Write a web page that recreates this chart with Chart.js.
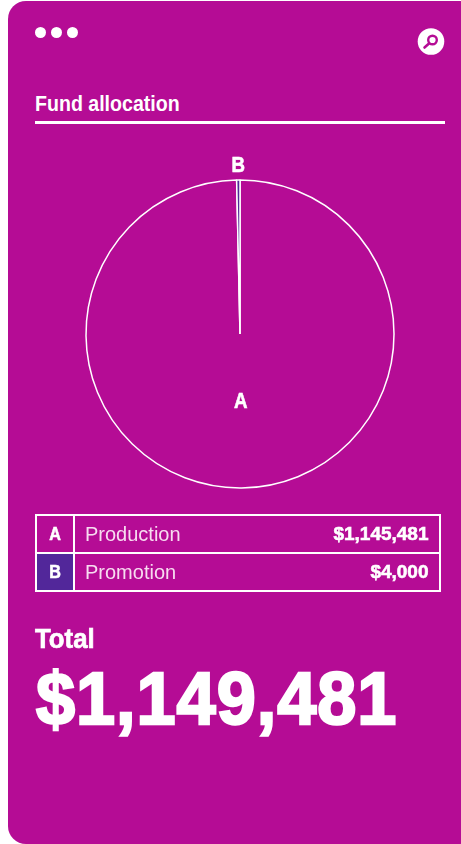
<!DOCTYPE html>
<html><head><meta charset="utf-8">
<script src="https://cdn.jsdelivr.net/npm/chart.js@4"></script>
<style>
html,body{margin:0;padding:0;background:#fff;width:461px;height:844px;overflow:hidden}
#card{position:absolute;left:8px;top:1px;width:470px;height:843px;background:#b50c95;border-radius:18px}
.abs{position:absolute;color:#fff;font-family:"Liberation Sans",Arial,sans-serif;white-space:nowrap;transform-origin:0 50%}
.dot{position:absolute;width:11px;height:11px;border-radius:50%;background:#fff;top:27px}
#rule{position:absolute;left:35px;top:121px;width:410px;height:3px;background:#fff}
#wrap{position:absolute;left:60px;top:144px;width:360px;height:380px}
.line{position:absolute;background:#fff}
</style></head><body>
<div id="card"></div>
<div class="dot" style="left:35px"></div><div class="dot" style="left:51px"></div><div class="dot" style="left:67px"></div>
<svg style="position:absolute;left:417px;top:28px" width="28" height="28" viewBox="0 0 28 28">
<circle cx="14" cy="13.5" r="13.3" fill="#fff"/>
<circle cx="15.5" cy="12" r="4.3" fill="none" stroke="#b50c95" stroke-width="2.4"/>
<line x1="12" y1="15.5" x2="7.5" y2="19.5" stroke="#b50c95" stroke-width="2.6" stroke-linecap="round"/>
</svg>
<div class="abs" id="title" style="left:35px;top:91px;font-size:22px;line-height:26px;font-weight:700;transform:scaleX(.89)">Fund allocation</div>
<div id="rule"></div>
<div id="wrap"><canvas id="c" width="360" height="380"></canvas></div>

<div class="line" style="left:35px;top:514px;width:406px;height:2px"></div>
<div class="line" style="left:35px;top:552px;width:406px;height:2px"></div>
<div class="line" style="left:35px;top:590px;width:406px;height:2px"></div>
<div class="line" style="left:35px;top:514px;width:2px;height:78px"></div>
<div class="line" style="left:73px;top:514px;width:2px;height:78px"></div>
<div class="line" style="left:439px;top:514px;width:2px;height:78px"></div>
<div style="position:absolute;left:37px;top:554px;width:36px;height:36px;background:#52279a"></div>

<div id="rows"></div>
<div class="abs" id="totalLabel" style="left:35px;top:622px;font-size:28px;line-height:34px;font-weight:700;transform:scaleX(.92);-webkit-text-stroke:.7px #fff">Total</div>
<div class="abs" id="totalValue" style="left:36px;top:659px;font-size:74px;line-height:80px;font-weight:700;letter-spacing:1px;transform:scaleX(.95);-webkit-text-stroke:2.4px #fff"></div>
<script>
const letters = ["A", "B"];
const categories = ["Production", "Promotion"];
const values = [1145481, 4000];
const totalValue = 1149481;
const money = v => "$" + v.toLocaleString("en-US");

const rows = document.getElementById("rows");
categories.forEach((name, i) => {
  const top = 516 + i * 38;
  rows.insertAdjacentHTML("beforeend",
    `<div class="abs" style="left:37px;width:36px;top:${top}px;line-height:36px;text-align:center;font-size:19px;font-weight:700;-webkit-text-stroke:.6px #fff;transform-origin:50% 50%;transform:scaleX(.85)">${letters[i]}</div>` +
    `<div class="abs" style="left:85px;top:${top}px;line-height:36px;font-size:20px;color:#f7dcf0">${name}</div>` +
    `<div class="abs" style="right:32.5px;top:${top}px;line-height:36px;font-size:19px;font-weight:700;-webkit-text-stroke:.6px #fff;transform-origin:100% 50%">${money(values[i])}</div>`);
});
document.getElementById("totalValue").textContent = money(totalValue);

const sliceLabels = {
  id: "sliceLabels",
  afterDatasetsDraw(chart) {
    const { ctx } = chart;
    const arcs = chart.getDatasetMeta(0).data;
    ctx.save();
    ctx.fillStyle = "#fff";
    ctx.strokeStyle = "#fff";
    ctx.lineWidth = 0.6;
    ctx.textAlign = "center";
    ctx.textBaseline = "middle";
    ctx.font = '700 22px "Liberation Sans",Arial,sans-serif';
    arcs.forEach((arc, i) => {
      const mid = (arc.startAngle + arc.endAngle) / 2;
      const r = i === 0 ? arc.outerRadius * 0.44 : arc.outerRadius + 14;
      ctx.save();
      ctx.translate(arc.x + Math.cos(mid) * r, arc.y + Math.sin(mid) * r);
      ctx.scale(0.85, 1);
      ctx.fillText(letters[i], 0, 0);
      ctx.strokeText(letters[i], 0, 0);
      ctx.restore();
    });
    ctx.restore();
  }
};

new Chart(document.getElementById("c"), {
  type: "pie",
  data: {
    labels: letters,
    datasets: [{
      data: values,
      backgroundColor: ["#b50c95", "#52279a"],
      borderColor: "#ffffff",
      borderWidth: 1.5
    }]
  },
  options: {
    responsive: false,
    animation: false,
    radius: 154,
    layout: { padding: 0 },
    plugins: { legend: { display: false }, tooltip: { enabled: false } }
  },
  plugins: [sliceLabels]
});
</script>
</body></html>
